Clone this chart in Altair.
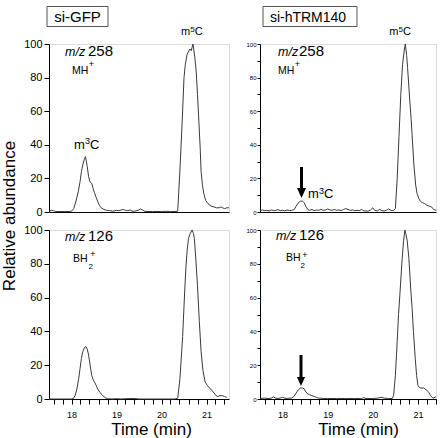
import altair as alt
import pandas as pd

# ---------------- data ----------------
# si-GFP, m/z 258
t_gfp_258 = [17.50, 17.55, 17.60, 17.65, 17.75, 17.85, 17.95, 18.00, 18.05, 18.10,
             18.15, 18.19, 18.22, 18.25, 18.28, 18.31, 18.33, 18.35, 18.38, 18.41,
             18.45, 18.48, 18.51, 18.55, 18.58, 18.62, 18.66, 18.72, 18.78, 18.85,
             18.92, 19.00, 19.05, 19.10, 19.15, 19.20, 19.25, 19.30, 19.35, 19.40,
             19.48, 19.53, 19.58, 19.63, 19.70, 19.80, 19.90, 20.00, 20.10, 20.20,
             20.30, 20.36, 20.41, 20.46, 20.50, 20.53, 20.57, 20.63, 20.66, 20.70,
             20.74, 20.77, 20.80, 20.83, 20.86, 20.88, 20.91, 20.94, 20.98, 21.03,
             21.10, 21.17, 21.22, 21.28, 21.32, 21.36, 21.40, 21.45, 21.50]
v_gfp_258 = [0.5, 1.0, 0.8, 0.3, 0.3, 0.3, 0.3, 0.5, 2, 6.5,
             12, 18, 24, 28, 31, 33, 30, 27, 21, 18,
             17, 14, 11.5, 8.5, 6.5, 4, 2.5, 1.5, 1, 0.8,
             0.5, 1.0, 0.8, 1.2, 1.5, 1.0, 0.8, 1.2, 0.5, 0.5,
             1.0, 1.8, 1.2, 0.4, 0.3, 0.3, 0.3, 0.3, 0.4, 0.3,
             0.3, 0.5, 25, 54, 80, 88, 94, 97, 96, 100,
             92, 84, 70, 54, 38, 24, 16, 11, 7, 5,
             3.5, 3, 2.5, 2.5, 3, 2.5, 2, 2.5, 2.5]

# si-hTRM140, m/z 258
t_trm_258 = [17.50, 17.55, 17.60, 17.65, 17.70, 17.75, 17.80, 17.85, 17.90, 17.95,
             18.00, 18.05, 18.10, 18.15, 18.20, 18.26, 18.30, 18.35, 18.40, 18.44,
             18.48, 18.52, 18.56, 18.60, 18.65, 18.70, 18.75, 18.80, 18.85, 18.90,
             18.95, 19.00, 19.05, 19.10, 19.15, 19.20, 19.25, 19.30, 19.35, 19.40,
             19.45, 19.50, 19.55, 19.60, 19.65, 19.70, 19.75, 19.80, 19.85, 19.90,
             19.95, 20.00, 20.04, 20.10, 20.15, 20.20, 20.25, 20.30, 20.35, 20.40,
             20.45, 20.50, 20.54, 20.58, 20.62, 20.66, 20.70, 20.72, 20.75, 20.77,
             20.82, 20.85, 20.87, 20.91, 20.95, 20.98, 21.02, 21.05, 21.10, 21.15,
             21.20, 21.25, 21.30, 21.35, 21.40]
v_trm_258 = [0.8, 1.2, 0.8, 1.0, 0.6, 1.2, 0.8, 1.0, 1.4, 0.8,
             1.0, 0.7, 1.2, 0.8, 1.0, 1.5, 3.5, 5.5, 6.5, 6.5,
             5.5, 3, 1.5, 1.0, 1.5, 0.8, 1.2, 1.0, 1.5, 1.0,
             1.2, 1.8, 1.2, 1.0, 1.5, 1.0, 1.3, 0.8, 1.5, 2.0,
             1.5, 1.0, 1.2, 0.8, 1.0, 0.8, 1.5, 0.7, 0.6, 0.5,
             1.2, 2.5, 1.0, 0.6, 1.5, 0.8, 0.6, 1.0, 1.8, 1.0,
             0.8, 2, 20, 45, 70, 88, 97, 100, 93, 86,
             66, 55, 46, 28, 16, 11, 8, 6.5, 5.5, 5,
             4, 3.5, 3, 1.5, 1]

# si-GFP, m/z 126
t_gfp_126 = [17.50, 17.60, 17.70, 17.80, 17.90, 18.00, 18.04, 18.08, 18.12, 18.16,
             18.19, 18.22, 18.25, 18.29, 18.32, 18.35, 18.38, 18.42, 18.45, 18.48,
             18.51, 18.55, 18.58, 18.63, 18.69, 18.75, 18.80, 18.90, 19.00, 19.10,
             19.20, 19.40, 19.50, 20.00, 20.30, 20.36, 20.41, 20.47, 20.50, 20.54,
             20.57, 20.60, 20.64, 20.68, 20.71, 20.73, 20.76, 20.80, 20.84, 20.88,
             20.92, 20.97, 21.02, 21.07, 21.12, 21.17, 21.21, 21.25, 21.30, 21.35,
             21.40, 21.45]
v_gfp_126 = [0, 0, 0, 0, 0, 0, 0.3, 2, 6, 12,
             18, 24, 28, 30.5, 31, 29.5, 26, 19, 14, 11.5,
             10, 8, 6, 4, 2, 0.8, 0.2, 0, 0.2, 0,
             0.2, 0.3, 0, 0, 0, 0.5, 12, 37, 55, 77,
             88, 95, 98, 100, 98, 95, 84, 67, 46, 28,
             17, 10, 8, 6.5, 5, 3.5, 2, 1.5, 2, 2,
             1.5, 1]

# si-hTRM140, m/z 126
t_trm_126 = [17.50, 17.60, 17.70, 17.75, 17.80, 17.85, 17.90, 17.95, 18.00, 18.05,
             18.10, 18.15, 18.20, 18.25, 18.30, 18.35, 18.40, 18.44, 18.48, 18.52,
             18.56, 18.60, 18.65, 18.70, 18.75, 18.80, 18.85, 18.90, 19.00, 19.20,
             19.40, 19.60, 19.75, 19.80, 19.85, 20.00, 20.10, 20.20, 20.25, 20.35,
             20.43, 20.46, 20.50, 20.54, 20.57, 20.60, 20.65, 20.68, 20.71, 20.73,
             20.76, 20.80, 20.84, 20.87, 20.90, 20.94, 20.97, 21.00, 21.05, 21.13,
             21.20, 21.24, 21.28, 21.33, 21.38, 21.40]
v_trm_126 = [0.3, 0.5, 0.3, 0.5, 1.2, 0.5, 0.3, 0.6, 1.0, 0.5,
             0.3, 0.5, 0.5, 1.5, 3.5, 5.5, 6.5, 6.5, 6, 4,
             3, 2.5, 2, 1.5, 1, 0.5, 0.5, 0.3, 0.3, 0.3,
             0.3, 0.3, 0.3, 0.8, 0.3, 0.3, 0.5, 1.0, 0.5, 0.3,
             0.3, 2, 14, 34, 50, 62, 83, 93, 100, 98,
             94, 83, 65, 54, 40, 24, 14, 8, 6.5, 6.5,
             5, 4, 2, 0.5, 1, 1.5]

x_minor_ticks = [17.6, 17.8, 18, 18.2, 18.4, 18.6, 18.8, 19, 19.2, 19.4, 19.6,
                 19.8, 20, 20.2, 20.4, 20.6, 20.8, 21, 21.2, 21.4]
y_ticks_left = [0, 20, 40, 60, 80, 100]
y_ticks_right = [0, 10, 20, 30, 40, 50, 60, 70, 80, 90, 100]

FONT = "Liberation Sans"
ONE = alt.InlineData(values=[{"k": 0}])


def txt(s, x, y, size, align="left", style="normal", baseline="alphabetic", angle=0):
    kw = dict(text=s, fontSize=size, align=align, baseline=baseline,
              fontStyle=style, font=FONT, color="black")
    if angle:
        kw["angle"] = angle
    return alt.Chart(ONE).mark_text(**kw).encode(x=alt.value(x), y=alt.value(y))


def box(x1, x2, y1, y2):
    return alt.Chart(ONE).mark_rect(fill="white", stroke="#555555", strokeWidth=1).encode(
        x=alt.value(x1), x2=alt.value(x2), y=alt.value(y1), y2=alt.value(y2))


def arrow(x, ytop, yhead, ytip):
    shaft = alt.Chart(ONE).mark_rule(color="black", strokeWidth=3).encode(
        x=alt.value(x), y=alt.value(ytop), y2=alt.value(yhead + 2))
    head = alt.Chart(ONE).mark_point(shape="M-0.9,-1L0.9,-1L0,1Z", filled=True,
                                     size=(ytip - yhead) ** 2, color="black",
                                     opacity=1, strokeWidth=0).encode(
        x=alt.value(x), y=alt.value((yhead + ytip) / 2))
    return [shaft, head]


def trace(t, v, xdom, xaxis, yaxis):
    df = pd.DataFrame({"time": t, "abund": v})
    return alt.Chart(df).mark_line(color="#3a3a3a", strokeWidth=1).encode(
        x=alt.X("time:Q", scale=alt.Scale(domain=xdom, nice=False, zero=False), axis=xaxis),
        y=alt.Y("abund:Q", scale=alt.Scale(domain=[0, 100], nice=False), axis=yaxis))


common = dict(domainColor="black", tickColor="black", labelColor="black",
              labelFont=FONT, grid=False, title=None, labelOverlap=False)

x_top = alt.Axis(labels=False, ticks=False, domainColor="black", grid=False, title=None)


def x_bottom(title_x):
    return alt.Axis(values=x_minor_ticks,
                    labelExpr="datum.value % 1 === 0 ? format(datum.value, 'd') : ''",
                    tickSize=5, labelPadding=6, labelFontSize=9, labelFont=FONT,
                    labelColor="black", domainColor="black", tickColor="black",
                    grid=False, labelOverlap=False, labelFlush=False,
                    title="Time (min)", titleFont=FONT, titleFontSize=17,
                    titleFontWeight="normal", titleColor="black",
                    titleX=title_x, titleY=35, titleBaseline="alphabetic", titleAlign="center")


y_left = alt.Axis(values=y_ticks_left, tickSize=5, labelPadding=2, labelFontSize=11, **common)
y_right = alt.Axis(values=y_ticks_right, labelExpr="datum.value % 20 === 0 ? datum.label : ''",
                   tickSize=3, labelPadding=1, labelFontSize=6, **common)

LX = [17.5, 21.5]
RX = [17.5, 21.4]

A = alt.layer(
    trace(t_gfp_258, v_gfp_258, LX, x_top, y_left),
    box(-2, 59, -37.5, -17.5),
    txt("si-GFP", 28.5, -22.5, 15, align="center"),
    txt("m/z", 16, 12, 12.5, style="italic"),
    txt("258", 64, 12, 15, align="right"),
    txt("MH", 23, 30, 10.5),
    txt("+", 39.8, 23, 9),
    txt("m", 132, -9, 11),
    txt("5", 141.3, -12.5, 8),
    txt("C", 145.8, -9, 11),
    txt("m", 25, 104.7, 13),
    txt("3", 36, 99.5, 9),
    txt("C", 41, 104.7, 13),
    txt("Relative abundance", -39.5, 172, 17, align="center", baseline="middle", angle=270),
).properties(width=180, height=168)

B = alt.layer(
    trace(t_trm_258, v_trm_258, RX, x_top, y_right),
    box(3, 97, -37.5, -17.5),
    txt("si-hTRM140", 48, -22.5, 14, align="center"),
    txt("m/z", 18, 12, 12.5, style="italic"),
    txt("258", 64, 12, 15, align="right"),
    txt("MH", 18, 30, 10.5),
    txt("+", 34.8, 23, 9),
    txt("m", 129.3, -9, 11),
    txt("5", 138.5, -12.5, 8),
    txt("C", 143, -9, 11),
    *arrow(41.5, 123, 144, 154),
    txt("m", 48, 154.3, 13),
    txt("3", 59, 149.5, 9),
    txt("C", 64, 154.3, 13),
).properties(width=176, height=168)

C = alt.layer(
    trace(t_gfp_126, v_gfp_126, LX, x_bottom(102), y_left),
    txt("m/z", 16, 10.7, 12.5, style="italic"),
    txt("126", 64, 10.7, 15, align="right"),
    txt("BH", 24, 32, 10.5),
    txt("2", 39.5, 39, 8),
    txt("+", 41.3, 27, 9),
).properties(width=180, height=169)

D = alt.layer(
    trace(t_trm_126, v_trm_126, RX, x_bottom(98), y_right),
    txt("m/z", 16, 10, 12.5, style="italic"),
    txt("126", 64, 10, 15, align="right"),
    txt("BH", 26, 31, 10.5),
    txt("2", 40.5, 38, 8),
    txt("+", 42.3, 28, 9),
    *arrow(41, 125, 147, 156),
).properties(width=176, height=169)

chart = alt.concat(
    A, B, C, D, columns=2, spacing={"row": 18, "column": 31}, bounds="flush",
    padding={"left": 0, "top": 5, "right": 0, "bottom": 0},
).configure_view(strokeWidth=0).configure(font=FONT, background="white")

chart.save("out.html", embed_options={"renderer": "svg", "actions": False})
